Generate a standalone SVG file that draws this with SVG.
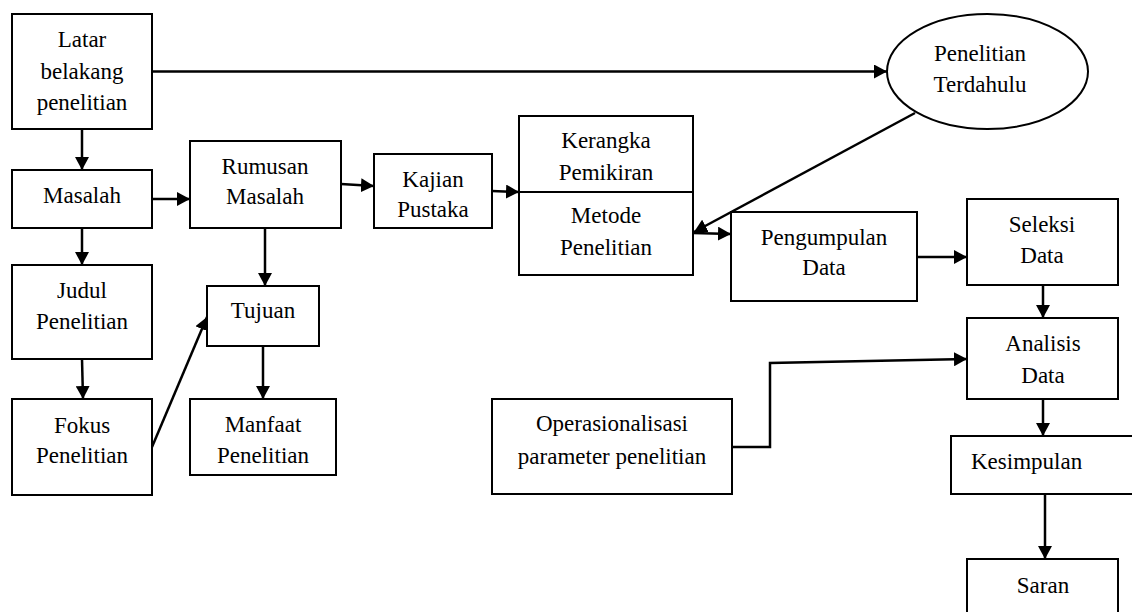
<svg xmlns="http://www.w3.org/2000/svg" width="1132" height="612" viewBox="0 0 1132 612" font-family="Liberation Serif, serif" font-size="23">
<style>
.box{fill:#fff;stroke:#000;stroke-width:2}
.t{text-anchor:middle}
.c{fill:none;stroke:#000;stroke-width:2.5}
</style>
<defs>
<marker id="ah" markerUnits="userSpaceOnUse" markerWidth="14" markerHeight="14" refX="13" refY="7" orient="auto">
<path d="M0,0 L13,7 L0,14 Z" fill="#000"/>
</marker>
</defs>
<rect width="1132" height="612" fill="#fff"/>
<g id="connectors">
<path class="c" d="M152,71.5 L887,71.5" marker-end="url(#ah)"/>
<path class="c" d="M82,129 L82,170" marker-end="url(#ah)"/>
<path class="c" d="M82,228 L82,265" marker-end="url(#ah)"/>
<path class="c" d="M82,359 L83,399" marker-end="url(#ah)"/>
<path class="c" d="M152,199 L190,199" marker-end="url(#ah)"/>
<path class="c" d="M265,228 L265,286" marker-end="url(#ah)"/>
<path class="c" d="M263,346 L263,399" marker-end="url(#ah)"/>
<path class="c" d="M152,447 L207,317" marker-end="url(#ah)"/>
<path class="c" d="M341,184 L374,186" marker-end="url(#ah)"/>
<path class="c" d="M492,191 L519,192" marker-end="url(#ah)"/>
<path class="c" d="M915,113 L694,232" marker-end="url(#ah)"/>
<path class="c" d="M693,233 L731,234" marker-end="url(#ah)"/>
<path class="c" d="M917,257 L967,257" marker-end="url(#ah)"/>
<path class="c" d="M1043,285 L1043,318" marker-end="url(#ah)"/>
<path class="c" d="M732,447 L770,447 L770,363 L967,359" marker-end="url(#ah)"/>
<path class="c" d="M1043,399 L1043,436" marker-end="url(#ah)"/>
<path class="c" d="M1045,494 L1045,559" marker-end="url(#ah)"/>
</g>
<g id="latar">
<rect class="box" x="12" y="14" width="140" height="115"/>
<text class="t" x="82" y="47">Latar</text>
<text class="t" x="82" y="79">belakang</text>
<text class="t" x="82" y="110">penelitian</text>
</g>
<g id="masalah">
<rect class="box" x="12" y="170" width="140" height="58"/>
<text class="t" x="82" y="203">Masalah</text>
</g>
<g id="judul">
<rect class="box" x="12" y="265" width="140" height="94"/>
<text class="t" x="82" y="298">Judul</text>
<text class="t" x="82" y="329">Penelitian</text>
</g>
<g id="fokus">
<rect class="box" x="12" y="399" width="140" height="96"/>
<text class="t" x="82" y="433">Fokus</text>
<text class="t" x="82" y="463">Penelitian</text>
</g>
<g id="rumusan">
<rect class="box" x="190" y="141" width="151" height="87"/>
<text class="t" x="265" y="174">Rumusan</text>
<text class="t" x="265" y="204">Masalah</text>
</g>
<g id="tujuan">
<rect class="box" x="207" y="286" width="112" height="60"/>
<text class="t" x="263" y="318">Tujuan</text>
</g>
<g id="manfaat">
<rect class="box" x="190" y="399" width="146" height="76"/>
<text class="t" x="263" y="432">Manfaat</text>
<text class="t" x="263" y="463">Penelitian</text>
</g>
<g id="kajian">
<rect class="box" x="374" y="154" width="118" height="74"/>
<text class="t" x="433" y="187">Kajian</text>
<text class="t" x="433" y="217">Pustaka</text>
</g>
<g id="kerangka-metode">
<rect class="box" x="519" y="116" width="174" height="159"/>
<line x1="519" y1="192" x2="693" y2="192" stroke="#000" stroke-width="2"/>
<text class="t" x="606" y="148">Kerangka</text>
<text class="t" x="606" y="180">Pemikiran</text>
<text class="t" x="606" y="223">Metode</text>
<text class="t" x="606" y="255">Penelitian</text>
</g>
<g id="penelitian-terdahulu">
<ellipse class="box" cx="987.5" cy="71.5" rx="100.5" ry="57.5"/>
<text class="t" x="980" y="61">Penelitian</text>
<text class="t" x="980" y="92">Terdahulu</text>
</g>
<g id="pengumpulan">
<rect class="box" x="731" y="212" width="186" height="89"/>
<text class="t" x="824" y="245">Pengumpulan</text>
<text class="t" x="824" y="275">Data</text>
</g>
<g id="seleksi">
<rect class="box" x="967" y="199" width="151" height="86"/>
<text class="t" x="1042" y="232">Seleksi</text>
<text class="t" x="1042" y="263">Data</text>
</g>
<g id="analisis">
<rect class="box" x="967" y="318" width="151" height="81"/>
<text class="t" x="1043" y="351">Analisis</text>
<text class="t" x="1043" y="383">Data</text>
</g>
<g id="operasionalisasi">
<rect class="box" x="492" y="399" width="240" height="95"/>
<text class="t" x="612" y="431">Operasionalisasi</text>
<text class="t" x="612" y="464">parameter penelitian</text>
</g>
<g id="kesimpulan">
<rect class="box" x="951" y="436" width="190" height="58"/>
<text x="971" y="469">Kesimpulan</text>
</g>
<g id="saran">
<rect class="box" x="967" y="559" width="151" height="70"/>
<text class="t" x="1043" y="593">Saran</text>
</g>
</svg>
